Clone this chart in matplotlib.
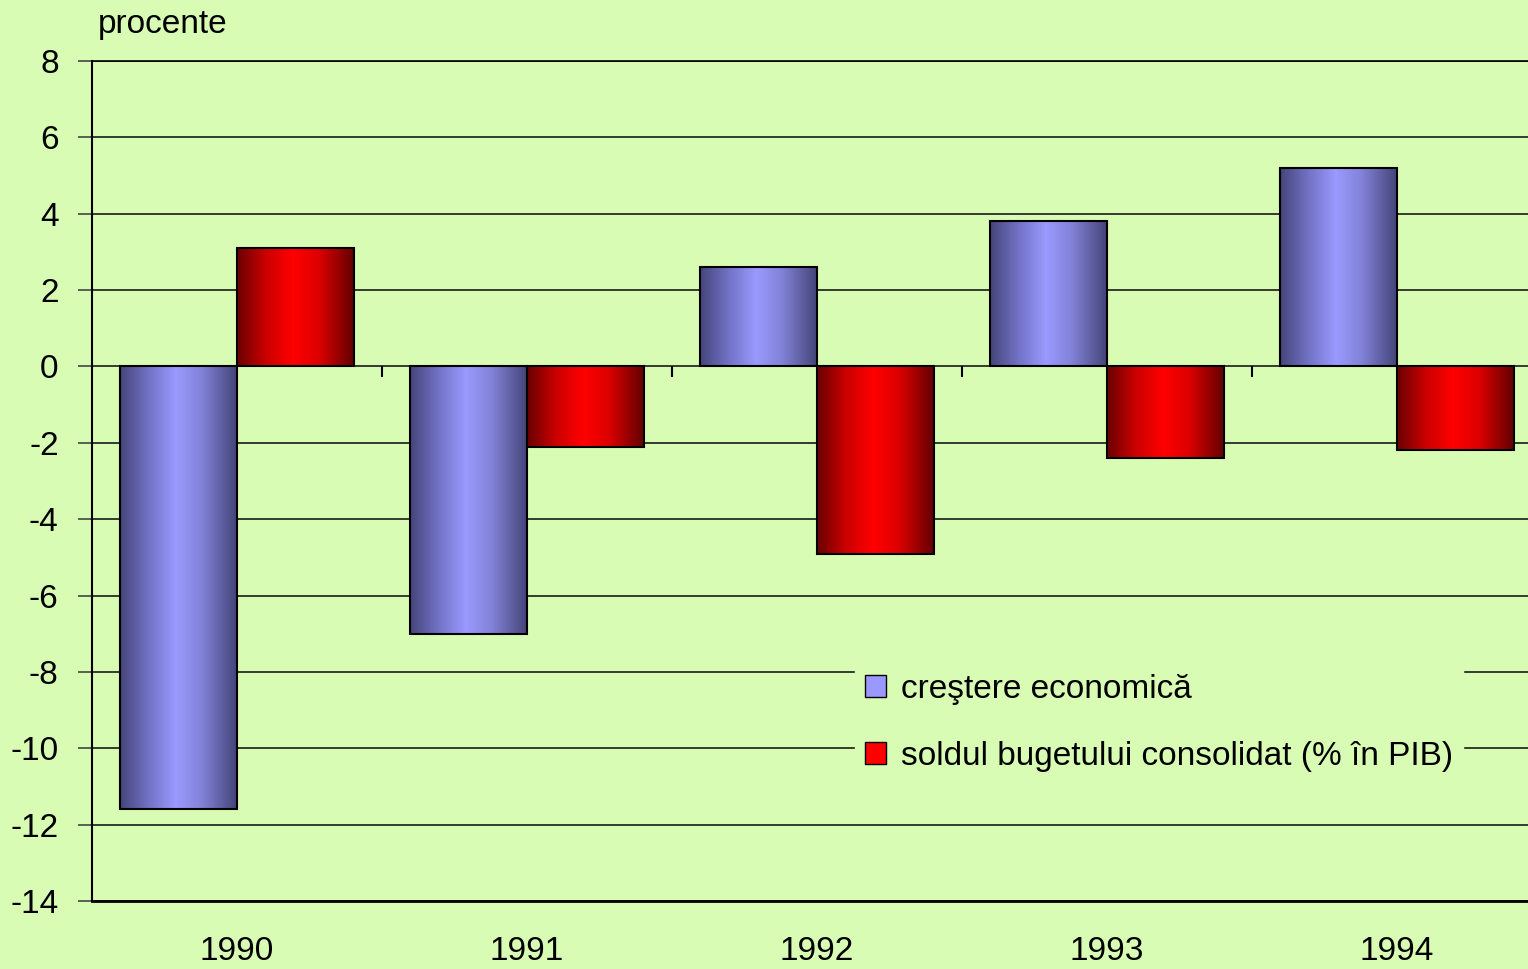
import numpy as np
import matplotlib
matplotlib.use("Agg")
import matplotlib.pyplot as plt
from matplotlib.colors import LinearSegmentedColormap
from matplotlib.patches import Patch

years = ["1990", "1991", "1992", "1993", "1994"]
crestere = [-11.6, -7.0, 2.6, 3.8, 5.2]
sold = [3.1, -2.1, -4.9, -2.4, -2.2]
series_names = ["creştere economică", "soldul bugetului consolidat (% în PIB)"]
yticks = list(range(-14, 9, 2))

BG = "#D9FCB5"
plt.rcParams['font.family'] = ['Liberation Sans', 'DejaVu Sans']

W, H = 1528, 969
fig = plt.figure(figsize=(W / 100, H / 100), dpi=100, facecolor=BG)
left, right, top, bottom = 92, 1542, 61, 901
ax = fig.add_axes([left / W, 1 - bottom / H, (right - left) / W, (bottom - top) / H])
ax.set_facecolor(BG)

x = np.arange(len(years))
bw = 0.403
blue_cmap = LinearSegmentedColormap.from_list(
    "b", [(0, "#45457a"), (0.25, "#7373c8"), (0.48, "#9a9aff"), (0.7, "#8282d8"), (1, "#45457a")])
red_cmap = LinearSegmentedColormap.from_list(
    "r", [(0, "#6a0000"), (0.25, "#cc0000"), (0.48, "#ff0000"), (0.7, "#dd0000"), (1, "#640000")])

grad = np.linspace(0, 1, 256).reshape(1, -1)
bars1 = ax.bar(x - bw / 2, crestere, bw, color="none", edgecolor="black", linewidth=1.5, zorder=4)
bars2 = ax.bar(x + bw / 2, sold, bw, color="none", edgecolor="black", linewidth=1.5, zorder=4)
for bars, cmap in ((bars1, blue_cmap), (bars2, red_cmap)):
    for b in bars:
        bx, by = b.get_x(), b.get_y()
        w, h = b.get_width(), b.get_height()
        ax.imshow(grad, extent=[bx, bx + w, by, by + h], aspect="auto", cmap=cmap, zorder=3,
                  interpolation="bilinear")

ax.set_xlim(-0.5, len(years) - 0.5)
ax.set_ylim(-14, 8)
ax.set_yticks(yticks)
ax.set_yticklabels([str(v) for v in yticks])
ax.yaxis.grid(True, color="#1a1a1a", linewidth=1.2, zorder=1)
ax.set_axisbelow(True)
ax.tick_params(axis="y", length=10, width=1.2, pad=14, labelsize=24, color="#444444")
ax.set_xticks(x)
ax.set_xticklabels(years)
ax.tick_params(axis="x", length=0, pad=25, labelsize=24)

# category separator ticks on the zero line
ax.vlines(x[:-1] + 0.5, -0.27, 0, color="black", linewidth=1.5, zorder=2)

ax.spines["right"].set_visible(False)
ax.spines["top"].set_linewidth(1.2)
ax.spines["left"].set_linewidth(1.5)
ax.spines["bottom"].set_linewidth(2)

handles = [Patch(facecolor="#9999FF", edgecolor="black"), Patch(facecolor="#FF0000", edgecolor="black")]
leg = ax.legend(handles, series_names, loc="upper left",
                bbox_to_anchor=((855 - left) / (right - left), (bottom - 664) / (bottom - top)),
                frameon=True, fontsize=24, handlelength=0.62, handleheight=0.62, handletextpad=0.45,
                labelspacing=1.08, borderpad=0.3, borderaxespad=0)
leg.get_frame().set_facecolor(BG)
leg.get_frame().set_edgecolor(BG)
leg.get_frame().set_alpha(1)
leg.get_frame().set_boxstyle("square", pad=0)
leg.set_zorder(5)

fig.text(98 / W, 1 - 33 / H, "procente", fontsize=24, va="baseline", ha="left")

fig.savefig("out.png", dpi=100, facecolor=BG)
